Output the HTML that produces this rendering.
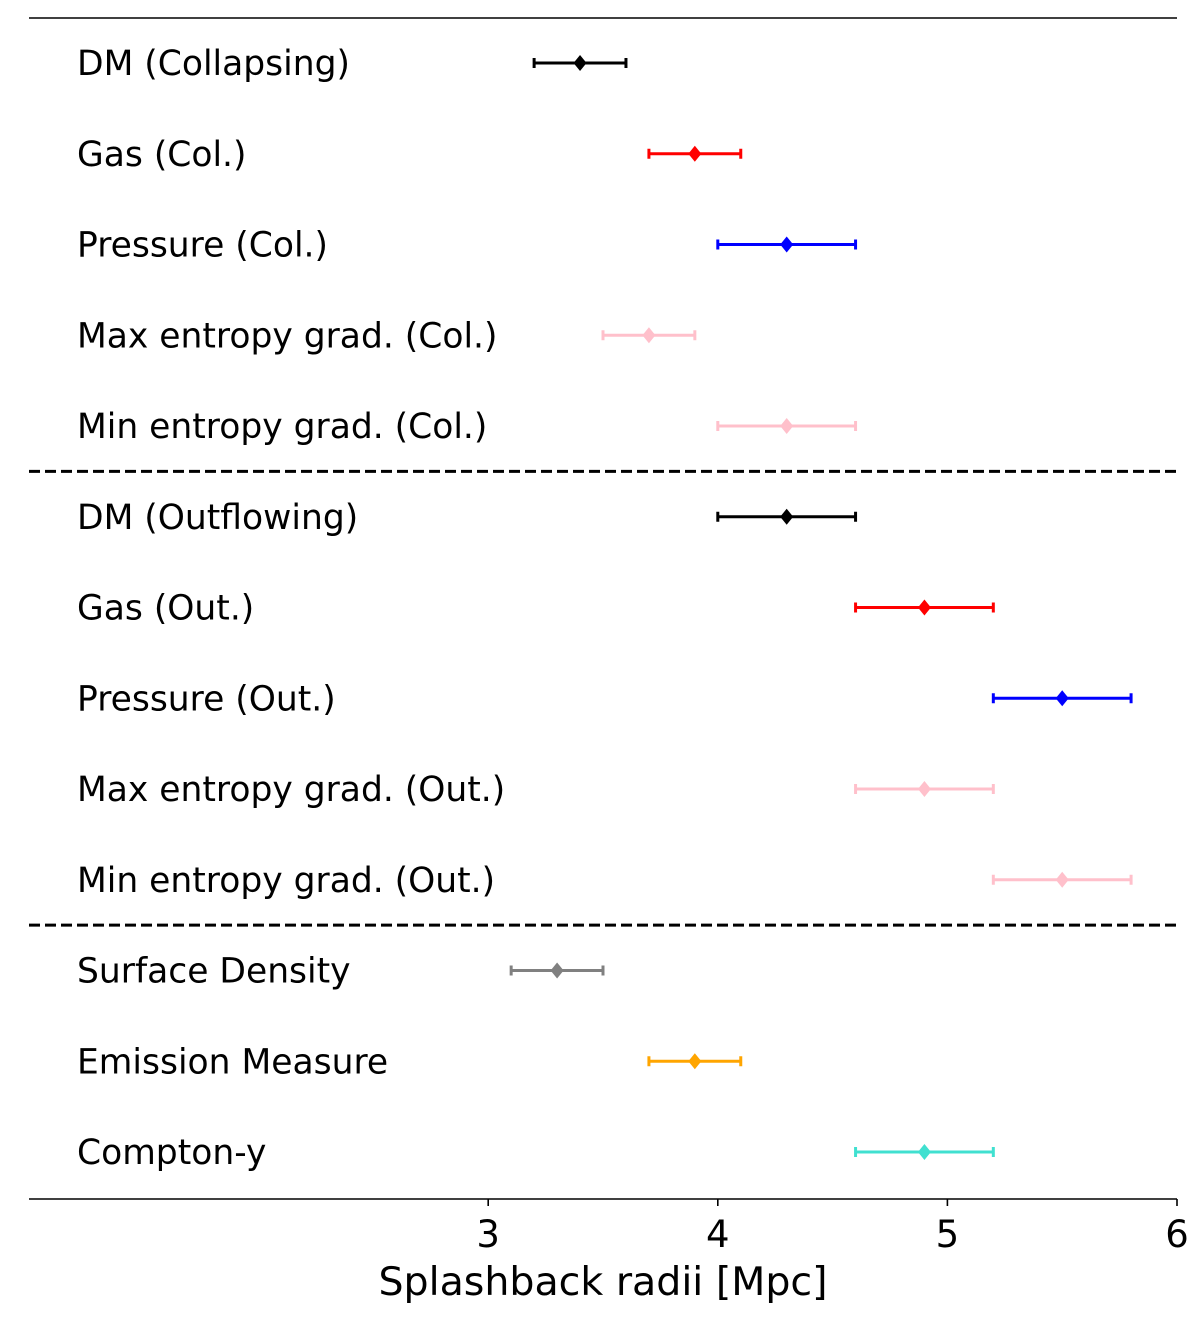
<!DOCTYPE html>
<html><head><meta charset="utf-8"><style>
body{margin:0;background:#fff;}
svg text{font-family:"DejaVu Sans","Liberation Sans",sans-serif;}
</style></head><body>
<svg id="chart" width="1200" height="1319" viewBox="0 0 1200 1319"></svg>
<script>
const labels=["DM (Collapsing)","Gas (Col.)","Pressure (Col.)","Max entropy grad. (Col.)","Min entropy grad. (Col.)","DM (Outflowing)","Gas (Out.)","Pressure (Out.)","Max entropy grad. (Out.)","Min entropy grad. (Out.)","Surface Density","Emission Measure","Compton-y"];
const values=[3.4,3.9,4.3,3.7,4.3,4.3,4.9,5.5,4.9,5.5,3.3,3.9,4.9];
const errors=[0.2,0.2,0.3,0.2,0.3,0.3,0.3,0.3,0.3,0.3,0.2,0.2,0.3];
const colors=["#000","#f00","#00f","pink","pink","#000","#f00","#00f","pink","pink","#808080","#ffa500","#40e0d0"];
const xTicks=[3,4,5,6];
const separators=[4.5,9.5];
const NS="http://www.w3.org/2000/svg";
const svg=document.getElementById('chart');
const L=29,R=1177,T=18,B=1199;
const xs=v=>L+(v-1)/(6-1)*(R-L);
const ys=i=>63+i*90.75;
function mk(t,a,p){const e=document.createElementNS(NS,t);for(const k in a)e.setAttribute(k,a[k]);(p||svg).appendChild(e);return e;}
let e;
e=mk('line',{x1:L,x2:R,y1:T,y2:T,stroke:'#000','stroke-width':1.6});


e=mk('line',{x1:L,x2:R,y1:B,y2:B,stroke:'#000','stroke-width':1.6});


separators.forEach(s=>{
 e=mk('line',{x1:L,x2:R,y1:ys(s),y2:ys(s),stroke:'#000','stroke-width':3,'stroke-dasharray':'11 5'});
 
 
});
xTicks.forEach(t=>{
 e=mk('line',{x1:xs(t),x2:xs(t),y1:B,y2:B+7,stroke:'#000','stroke-width':1.6});
 
 
 e=mk('text',{x:xs(t),y:B+48,'text-anchor':'middle','font-size':37});
 e.textContent=t;
 
 
});
e=mk('text',{x:603,y:1295,'text-anchor':'middle','font-size':39.5});
e.textContent='Splashback radii [Mpc]';


labels.forEach((lab,i)=>{
 const y=ys(i),c=colors[i],x0=xs(values[i]-errors[i]),x1=xs(values[i]+errors[i]),xc=xs(values[i]);
 const g=mk('g',{});
 
 
 mk('line',{x1:x0,x2:x1,y1:y,y2:y,stroke:c,'stroke-width':3},g);
 mk('line',{x1:x0,x2:x0,y1:y-5,y2:y+5,stroke:c,'stroke-width':3},g);
 mk('line',{x1:x1,x2:x1,y1:y-5,y2:y+5,stroke:c,'stroke-width':3},g);
 mk('polygon',{points:`${xc},${y-8} ${xc+6.5},${y} ${xc},${y+8} ${xc-6.5},${y}`,fill:c},g);
 e=mk('text',{x:77,y:y+12,'font-size':34.5});
 e.textContent=lab;
 
 
});
</script>
</body></html>
